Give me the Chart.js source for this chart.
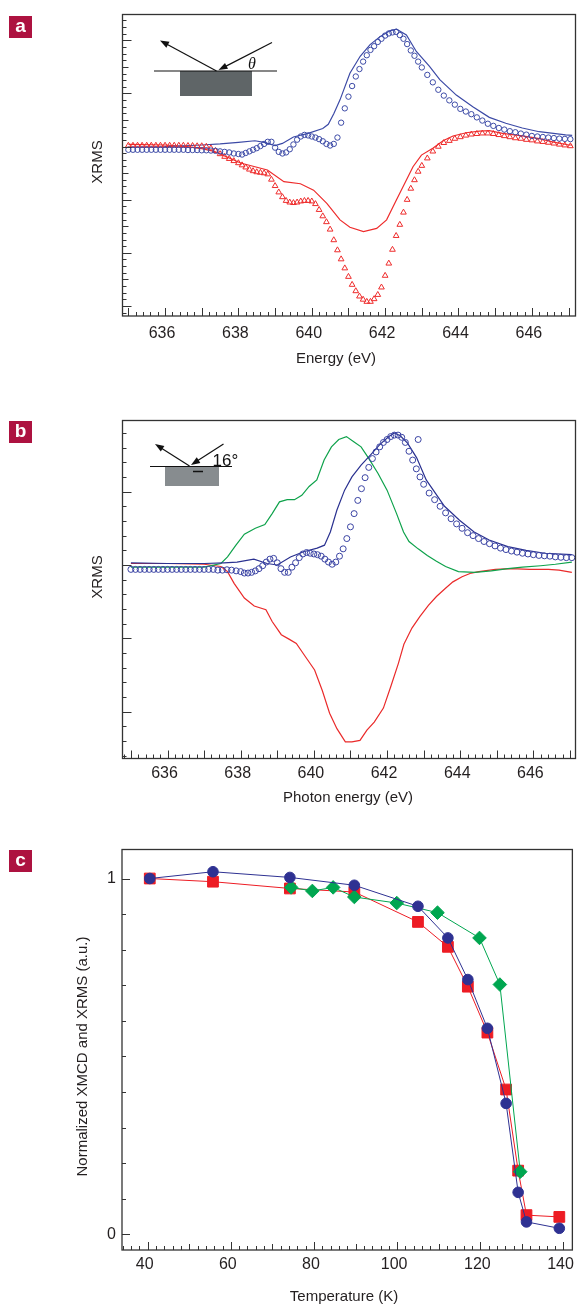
<!DOCTYPE html>
<html>
<head>
<meta charset="utf-8">
<title>XRMS and XMCD</title>
<script src="https://cdn.jsdelivr.net/npm/chart.js@4.4.1/dist/chart.umd.min.js"></script>
<style>
  html, body { margin: 0; padding: 0; background: #fff; }
  body { position: relative; width: 582px; height: 1306px; overflow: hidden; }
  .panel { position: absolute; left: 0; width: 582px; }
  .tag {
    position: absolute; left: 9px; width: 23px; height: 22px; background: #ad1240;
    color: #fff; font: bold 19px "Liberation Sans", Arial, sans-serif;
    line-height: 19px; text-align: center;
  }
</style>
</head>
<body>
<div class="panel" style="top:0;height:380px"><canvas id="chartA"></canvas></div>
<div class="panel" style="top:400px;height:420px"><canvas id="chartB"></canvas></div>
<div class="panel" style="top:820px;height:486px"><canvas id="chartC"></canvas></div>
<div class="tag" style="top:16px">a</div>
<div class="tag" style="top:421px">b</div>
<div class="tag" style="top:850px">c</div>
<script>
"use strict";

// energy grid of the measured scans (eV): coarse pre-edge, fine edge, coarse tail
const scanE = [
  635, 635.125, 635.25, 635.375, 635.5, 635.625, 635.75, 635.875,
  636, 636.125, 636.25, 636.375, 636.5, 636.625, 636.75, 636.875,
  637, 637.125, 637.25, 637.375, 637.5, 637.625, 637.75, 637.875,
  638,
  638.1, 638.2, 638.3, 638.4, 638.5, 638.6, 638.7, 638.8, 638.9, 639.0,
  639.1, 639.2, 639.3, 639.4, 639.5, 639.6, 639.7, 639.8, 639.9, 640.0,
  640.1, 640.2, 640.3, 640.4, 640.5, 640.6, 640.7, 640.8, 640.9, 641.0,
  641.1, 641.2, 641.3, 641.4, 641.5, 641.6, 641.7, 641.8, 641.9, 642.0,
  642.1, 642.2, 642.3, 642.4, 642.5, 642.6, 642.7, 642.8, 642.9, 643.0,
  643.15, 643.3, 643.45, 643.6, 643.75, 643.9, 644.05, 644.2, 644.35, 644.5,
  644.65, 644.8, 644.95, 645.1, 645.25, 645.4, 645.55, 645.7, 645.85, 646.0,
  646.15, 646.3, 646.45, 646.6, 646.75, 646.9, 647.05
];

// ---- panel a: measured (symbols) and calculated (lines) XRMS
const aCircY = [
  -0.06, -0.06, -0.06, -0.06, -0.06, -0.06, -0.06, -0.06,
  -0.06, -0.06, -0.06, -0.06, -0.06, -0.065, -0.065, -0.065,
  -0.07, -0.07, -0.075, -0.08, -0.09, -0.10, -0.11, -0.13,
  -0.14,
  -0.15, -0.12, -0.09, -0.06, -0.03, 0.01, 0.05, 0.09, 0.09, -0.02,
  -0.10, -0.13, -0.11, -0.05, 0.04, 0.13, 0.19, 0.22, 0.21, 0.19,
  0.17, 0.14, 0.10, 0.05, 0.02, 0.05, 0.17, 0.45, 0.72, 0.94,
  1.14, 1.32, 1.46, 1.60, 1.72, 1.82, 1.89, 1.97, 2.03, 2.09,
  2.13, 2.15, 2.16, 2.10, 2.03, 1.93, 1.81, 1.71, 1.60, 1.49,
  1.35, 1.21, 1.07, 0.96, 0.87, 0.79, 0.71, 0.66, 0.61, 0.55,
  0.49, 0.43, 0.39, 0.35, 0.32, 0.29, 0.27, 0.245, 0.225, 0.20,
  0.19, 0.18, 0.17, 0.16, 0.15, 0.145, 0.14
];
const aTriY = [
  0.02, 0.02, 0.02, 0.02, 0.02, 0.02, 0.02, 0.02,
  0.02, 0.02, 0.02, 0.02, 0.02, 0.015, 0.015, 0.01,
  0.01, 0.0, -0.03, -0.08, -0.14, -0.19, -0.23, -0.27,
  -0.31,
  -0.35, -0.39, -0.43, -0.46, -0.48, -0.49, -0.50, -0.52, -0.62, -0.74,
  -0.86, -0.95, -1.02, -1.05, -1.06, -1.05, -1.03, -1.02, -1.02, -1.03,
  -1.08, -1.19, -1.31, -1.42, -1.56, -1.76, -1.95, -2.12, -2.29, -2.45,
  -2.60, -2.72, -2.82, -2.88, -2.92, -2.92, -2.87, -2.79, -2.65, -2.43,
  -2.20, -1.94, -1.68, -1.47, -1.24, -1.00, -0.79, -0.63, -0.47, -0.36,
  -0.22, -0.09, 0.00, 0.07, 0.11, 0.15, 0.18, 0.21, 0.23, 0.24,
  0.25, 0.25, 0.24, 0.22, 0.20, 0.18, 0.16, 0.15, 0.13, 0.12,
  0.10, 0.09, 0.075, 0.06, 0.04, 0.025, 0.01
];
const aBlueLineE = [635.0, 636.0, 637.0, 637.5, 638.0, 638.45, 638.7, 639.0, 639.2, 639.5,
  639.9, 640.3, 640.45, 640.6, 640.77, 641.04, 641.32, 641.59, 641.86, 642.13,
  642.31, 642.58, 642.85, 643.21, 643.49, 643.94, 644.39, 644.84, 645.29, 645.74,
  646.2, 646.92, 647.1];
const aBlueLineY = [-0.01, 0.0, 0.03, 0.05, 0.08, 0.11, 0.08, 0.02, 0.06, 0.18,
  0.25, 0.34, 0.42, 0.62, 0.88, 1.38, 1.70, 1.92, 2.07, 2.18,
  2.21, 2.10, 1.79, 1.51, 1.26, 0.97, 0.75, 0.55, 0.44, 0.35,
  0.28, 0.22, 0.21];
const aRedLineE = [635.0, 636.0, 636.6, 637.0, 637.34, 638.06, 638.79, 639.24, 639.69, 640.05,
  640.41, 640.77, 641.04, 641.41, 641.77, 642.04, 642.31, 642.58, 642.76, 642.99,
  643.3, 643.58, 643.85, 644.21, 644.57, 644.84, 645.2, 645.74, 646.2, 646.56,
  647.01, 647.1];
const aRedLineY = [0.04, 0.03, 0.0, -0.04, -0.09, -0.31, -0.44, -0.66, -0.70, -0.82,
  -1.07, -1.38, -1.52, -1.60, -1.54, -1.38, -1.00, -0.63, -0.38, -0.16,
  -0.03, 0.11, 0.20, 0.26, 0.29, 0.30, 0.25, 0.20, 0.15, 0.09,
  0.03, 0.03];
const aXLabels = [636, 638, 640, 642, 644, 646];

// ---- panel b: measured XRMS at 16 degrees with three calculated spectra
const bCircY = [
  -0.06, -0.06, -0.06, -0.06, -0.06, -0.06, -0.06, -0.06,
  -0.06, -0.06, -0.06, -0.06, -0.06, -0.06, -0.06, -0.06,
  -0.06, -0.06, -0.06, -0.07, -0.07, -0.065, -0.07, -0.08,
  -0.09,
  -0.11, -0.11, -0.10, -0.08, -0.05, -0.01, 0.04, 0.08, 0.09, 0.03,
  -0.05, -0.10, -0.10, -0.03, 0.03, 0.10, 0.15, 0.17, 0.16, 0.15,
  0.14, 0.12, 0.08, 0.04, 0.01, 0.04, 0.12, 0.22, 0.36, 0.52,
  0.70, 0.88, 1.04, 1.19, 1.33, 1.45, 1.54, 1.61, 1.67, 1.71,
  1.75, 1.77, 1.77, 1.74, 1.67, 1.55, 1.43, 1.31, 1.20, 1.10,
  0.98, 0.89, 0.80, 0.71, 0.63, 0.56, 0.50, 0.44, 0.40, 0.36,
  0.32, 0.29, 0.26, 0.23, 0.21, 0.19, 0.175, 0.16, 0.15, 0.14,
  0.13, 0.125, 0.12, 0.11, 0.105, 0.10, 0.10
];
const bStrayE = [642.85];
const bStrayY = [1.71];
const bBlueLineE = [635.0, 636.0, 637.0, 637.54, 637.9, 638.36, 638.72, 639.0, 639.36, 639.72,
  640.09, 640.29, 640.45, 640.63, 640.84, 641.04, 641.29, 641.55, 641.8, 642.05,
  642.2, 642.36, 642.56, 642.81, 643.07, 643.32, 643.57, 643.98, 644.38, 644.79,
  645.3, 645.8, 646.31, 647.05];
const bBlueLineY = [0.03, 0.02, 0.02, 0.03, 0.04, 0.08, 0.02, 0.0, 0.11, 0.18,
  0.23, 0.27, 0.45, 0.75, 1.02, 1.20, 1.36, 1.50, 1.64, 1.75,
  1.80, 1.76, 1.66, 1.46, 1.16, 0.98, 0.80, 0.61, 0.45, 0.34,
  0.25, 0.20, 0.16, 0.14];
const bGreenLineE = [635.0, 636.0, 637.0, 637.46, 637.64, 637.87, 638.1, 638.4, 638.66, 638.86,
  639.06, 639.27, 639.47, 639.67, 639.87, 640.08, 640.28, 640.48, 640.68, 640.89,
  641.09, 641.29, 641.49, 641.75, 642.0, 642.26, 642.45, 642.6, 642.85, 643.1,
  643.35, 643.6, 643.95, 644.4, 644.85, 645.3, 645.7, 646.2, 646.6, 647.05];
const bGreenLineY = [-0.03, -0.03, -0.03, 0.02, 0.11, 0.27, 0.42, 0.50, 0.55, 0.70,
  0.86, 0.89, 0.89, 0.95, 1.07, 1.16, 1.43, 1.61, 1.71, 1.75,
  1.68, 1.61, 1.46, 1.25, 1.02, 0.70, 0.45, 0.32, 0.22, 0.13,
  0.05, -0.02, -0.09, -0.10, -0.08, -0.05, -0.03, -0.01, 0.01, 0.04];
const bRedLineE = [635.0, 636.0, 637.0, 637.46, 637.64, 637.82, 638.1, 638.37, 638.69, 638.86,
  639.11, 639.32, 639.52, 639.77, 640.02, 640.23, 640.43, 640.63, 640.86, 641.04,
  641.26, 641.45, 641.65, 641.9, 642.1, 642.31, 642.46, 642.68, 642.9, 643.13,
  643.35, 643.59, 643.8, 644.05, 644.3, 644.51, 644.96, 645.4, 645.9, 646.41,
  646.7, 647.05];
const bRedLineY = [0.02, 0.02, 0.01, -0.02, -0.09, -0.25, -0.45, -0.56, -0.61, -0.77,
  -0.95, -1.01, -1.07, -1.25, -1.43, -1.71, -2.02, -2.23, -2.41, -2.41,
  -2.39, -2.25, -2.14, -1.95, -1.66, -1.34, -1.08, -0.86, -0.70, -0.55,
  -0.43, -0.32, -0.23, -0.16, -0.11, -0.09, -0.06, -0.05, -0.06, -0.06,
  -0.07, -0.10];
const bXLabels = [636, 638, 640, 642, 644, 646];

// ---- panel c: normalized XMCD / XRMS against temperature
const cCircT = [40.5, 55.7, 74.2, 89.7, 105.0, 112.2, 117.0, 121.7, 126.2, 129.1, 131.1, 139.0];
const cCircV = [1.0, 1.019, 1.003, 0.981, 0.922, 0.833, 0.716, 0.579, 0.368, 0.118, 0.035, 0.017];
const cSquareT = [40.5, 55.7, 74.2, 89.7, 105.0, 112.2, 117.0, 121.7, 126.2, 129.1, 131.1, 139.0];
const cSquareV = [1.0, 0.991, 0.972, 0.962, 0.878, 0.808, 0.696, 0.567, 0.407, 0.179, 0.054, 0.049];
const cDiamondT = [74.5, 79.6, 84.6, 89.7, 99.9, 109.7, 119.8, 124.7, 129.6];
const cDiamondV = [0.975, 0.965, 0.975, 0.948, 0.931, 0.904, 0.833, 0.702, 0.176];
const cXLabels = [40, 60, 80, 100, 120, 140];
const cYLabels = [0, 1];

const FONT = '"Liberation Sans", Arial, Helvetica, sans-serif';
const INK = "#231f20";
const FRAME = "#333333";
Chart.defaults.font.family = FONT;
Chart.defaults.color = INK;

const pts = (xs, ys) => xs.map((x, i) => ({ x: x, y: ys[i] }));
const isMult = (v, m) => Math.abs(v / m - Math.round(v / m)) < 1e-6;

// inward tick marks along the bottom and left edges of the frame
function tickMarks(ctx, area, scale, axis, step, lenFor) {
  const k0 = Math.ceil(scale.min / step - 1e-6);
  const k1 = Math.floor(scale.max / step + 1e-6);
  ctx.beginPath();
  for (let k = k0; k <= k1; k++) {
    const v = k * step;
    const p = Math.round(scale.getPixelForValue(v)) + 0.5;
    const len = lenFor(v);
    if (axis === "x") {
      if (p <= area.left + 1 || p >= area.right - 1) continue;
      ctx.moveTo(p, area.bottom); ctx.lineTo(p, area.bottom - len);
    } else {
      if (p <= area.top + 1 || p >= area.bottom - 1) continue;
      ctx.moveTo(area.left, p); ctx.lineTo(area.left + len, p);
    }
  }
  ctx.stroke();
}

function arrow(ctx, x0, y0, x1, y1) {
  const a = Math.atan2(y1 - y0, x1 - x0), L = 9, W = 3.3;
  const c = Math.cos(a), s = Math.sin(a);
  ctx.beginPath();
  ctx.moveTo(x0, y0);
  ctx.lineTo(x1 - L * 0.7 * c, y1 - L * 0.7 * s);
  ctx.stroke();
  ctx.beginPath();
  ctx.moveTo(x1, y1);
  ctx.lineTo(x1 - L * c + W * s, y1 - L * s - W * c);
  ctx.lineTo(x1 - L * c - W * s, y1 - L * s + W * c);
  ctx.closePath();
  ctx.fill();
}

// frame, tick marks, axis titles and the small geometry sketch
function decor(spec) {
  return {
    id: "decor",
    afterDraw(chart) {
      const ctx = chart.ctx, a = chart.chartArea, sc = chart.scales;
      ctx.save();
      ctx.strokeStyle = FRAME;
      ctx.lineWidth = 1;
      tickMarks(ctx, a, sc.x, "x", spec.xStep, spec.xLen);
      tickMarks(ctx, a, sc.y, "y", spec.yStep, spec.yLen);
      ctx.lineWidth = 1.3;
      ctx.strokeRect(a.left, a.top, a.right - a.left, a.bottom - a.top);

      ctx.fillStyle = INK;
      ctx.font = "15px " + FONT;
      ctx.textAlign = "center";
      ctx.textBaseline = "middle";
      ctx.fillText(spec.xTitle, spec.xTitleAt[0], spec.xTitleAt[1]);
      ctx.save();
      ctx.translate(spec.yTitleAt[0], spec.yTitleAt[1]);
      ctx.rotate(-Math.PI / 2);
      ctx.fillText(spec.yTitle, 0, 0);
      ctx.restore();

      if (spec.inset) spec.inset(ctx);
      ctx.restore();
    }
  };
}

// the axis boxes keep a fixed size so the plot frame lands where it should
function options(o) {
  return {
    responsive: true,
    maintainAspectRatio: false,
    animation: false,
    events: [],
    layout: { padding: o.pad },
    plugins: { legend: { display: false }, tooltip: { enabled: false } },
    scales: {
      x: {
        type: "linear", min: o.x.min, max: o.x.max,
        grid: { display: false, drawTicks: false },
        border: { display: false },
        afterBuildTicks: s => { s.ticks = o.x.labels.map(v => ({ value: v })); },
        afterFit: s => { s.height = 30; },
        ticks: { autoSkip: false, maxRotation: 0, padding: o.x.pad, labelOffset: -3,
                 font: { size: 16 }, color: INK }
      },
      y: {
        type: "linear", min: o.y.min, max: o.y.max,
        grid: { display: false, drawTicks: false },
        border: { display: false },
        afterBuildTicks: s => { s.ticks = (o.y.labels || []).map(v => ({ value: v })); },
        afterFit: s => { s.width = o.y.labels ? 40 : 0; },
        ticks: { display: !!o.y.labels, padding: 6, font: { size: 16 }, color: INK }
      }
    }
  };
}

function line(data, color, order) {
  return { data: data, showLine: true, borderColor: color, borderWidth: 1.2,
           pointRadius: 0, tension: 0, fill: false, order: order };
}
function symbols(data, color, style, r, order) {
  return { data: data, showLine: false, pointStyle: style, pointRadius: r,
           borderColor: color, backgroundColor: "rgba(0,0,0,0)", borderWidth: 1, order: order };
}

// ---------- panel a
const A_BLUE = "#3c4aa6", A_RED = "#ee2c2c";
new Chart(document.getElementById("chartA"), {
  type: "scatter",
  data: {
    datasets: [
      symbols(pts(scanE, aCircY), A_BLUE, "circle", 2.7, 1),
      symbols(pts(scanE, aTriY), A_RED, "triangle", 3.3, 2),
      line(pts(aBlueLineE, aBlueLineY), A_BLUE, 3),
      line(pts(aRedLineE, aRedLineY), A_RED, 4)
    ]
  },
  options: options({
    pad: { left: 122.5, top: 14.5, right: 6.5, bottom: 34 },
    x: { min: 634.84, max: 647.19, labels: aXLabels, pad: 8 },
    y: { min: -3.19, max: 2.487 }
  }),
  plugins: [decor({
    xStep: 0.2, xLen: v => isMult(v, 1) ? 8 : 4,
    yStep: 0.125, yLen: v => isMult(v, 1) ? 9 : (isMult(v, 0.5) ? 6 : 4),
    xTitle: "Energy (eV)", xTitleAt: [336, 359],
    yTitle: "XRMS", yTitleAt: [98, 162],
    inset(ctx) {
      ctx.fillStyle = "#5f6567";
      ctx.fillRect(180, 71, 72, 25);
      ctx.strokeStyle = "#111";
      ctx.fillStyle = "#111";
      ctx.lineWidth = 1.2;
      ctx.beginPath(); ctx.moveTo(154, 71); ctx.lineTo(277, 71); ctx.stroke();
      arrow(ctx, 216.5, 71, 160, 40.5);
      arrow(ctx, 272, 42.5, 218.5, 70);
      ctx.font = 'italic 16px "Liberation Serif", "DejaVu Serif", serif';
      ctx.textAlign = "center";
      ctx.textBaseline = "middle";
      ctx.fillText("\u03b8", 252, 64.5);
    }
  })]
});

// ---------- panel b
const B_CIRC = "#3a43a3", B_BLUE = "#2a3190", B_GREEN = "#0ea24b", B_RED = "#ea2a2a";
new Chart(document.getElementById("chartB"), {
  type: "scatter",
  data: {
    datasets: [
      symbols(pts(scanE, bCircY).concat(pts(bStrayE, bStrayY)), B_CIRC, "circle", 3, 1),
      line(pts(bBlueLineE, bBlueLineY), B_BLUE, 2),
      line(pts(bGreenLineE, bGreenLineY), B_GREEN, 3),
      line(pts(bRedLineE, bRedLineY), B_RED, 4)
    ]
  },
  options: options({
    pad: { left: 122.5, top: 20.5, right: 6.5, bottom: 31.5 },
    x: { min: 634.77, max: 647.15, labels: bXLabels, pad: 5 },
    y: { min: -2.637, max: 1.969 }
  }),
  plugins: [decor({
    xStep: 0.2, xLen: v => isMult(v, 1) ? 8 : 4,
    yStep: 0.2, yLen: v => isMult(v, 1) ? 9 : 4,
    xTitle: "Photon energy (eV)", xTitleAt: [348, 398],
    yTitle: "XRMS", yTitleAt: [98, 177],
    inset(ctx) {
      ctx.fillStyle = "#878c8f";
      ctx.fillRect(165, 67, 54, 19);
      ctx.strokeStyle = "#111";
      ctx.fillStyle = "#111";
      ctx.lineWidth = 1.2;
      ctx.beginPath(); ctx.moveTo(150, 66.5); ctx.lineTo(232, 66.5); ctx.stroke();
      ctx.lineWidth = 1.5;
      ctx.beginPath(); ctx.moveTo(193, 71.5); ctx.lineTo(203, 71.5); ctx.stroke();
      ctx.lineWidth = 1.2;
      arrow(ctx, 189.5, 66, 155, 44);
      arrow(ctx, 223.5, 44, 191, 65);
      ctx.font = "17px " + FONT;
      ctx.textAlign = "left";
      ctx.textBaseline = "alphabetic";
      ctx.fillText("16\u00b0", 212.5, 66);
    }
  })]
});

// ---------- panel c
const C_BLUE = "#2e3192", C_RED = "#ed1c24", C_GREEN = "#00a650";
function marked(data, color, style, r, order) {
  return { data: data, showLine: true, borderColor: color, borderWidth: 1, tension: 0,
           pointStyle: style, pointRadius: r, pointBackgroundColor: color,
           pointBorderColor: color, pointBorderWidth: 1, order: order };
}
new Chart(document.getElementById("chartC"), {
  type: "scatter",
  data: {
    datasets: [
      marked(pts(cCircT, cCircV), C_BLUE, "circle", 5.3, 1),
      marked(pts(cDiamondT, cDiamondV), C_GREEN, "rectRot", 6.8, 2),
      marked(pts(cSquareT, cSquareV), C_RED, "rect", 7.6, 3)
    ]
  },
  options: options({
    pad: { left: 82, top: 29.5, right: 4, bottom: 26 },
    x: { min: 33.82, max: 142.14, labels: cXLabels, pad: 5 },
    y: { min: -0.044, max: 1.0815, labels: cYLabels }
  }),
  plugins: [decor({
    xStep: 2, xLen: v => isMult(v, 20) ? 8 : (isMult(v, 10) ? 6 : 4),
    yStep: 0.1, yLen: v => isMult(v, 1) ? 8 : 4,
    xTitle: "Temperature (K)", xTitleAt: [344, 476.5],
    yTitle: "Normalized XMCD and XRMS (a.u.)", yTitleAt: [83, 236.5]
  })]
});
</script>
</body>
</html>
